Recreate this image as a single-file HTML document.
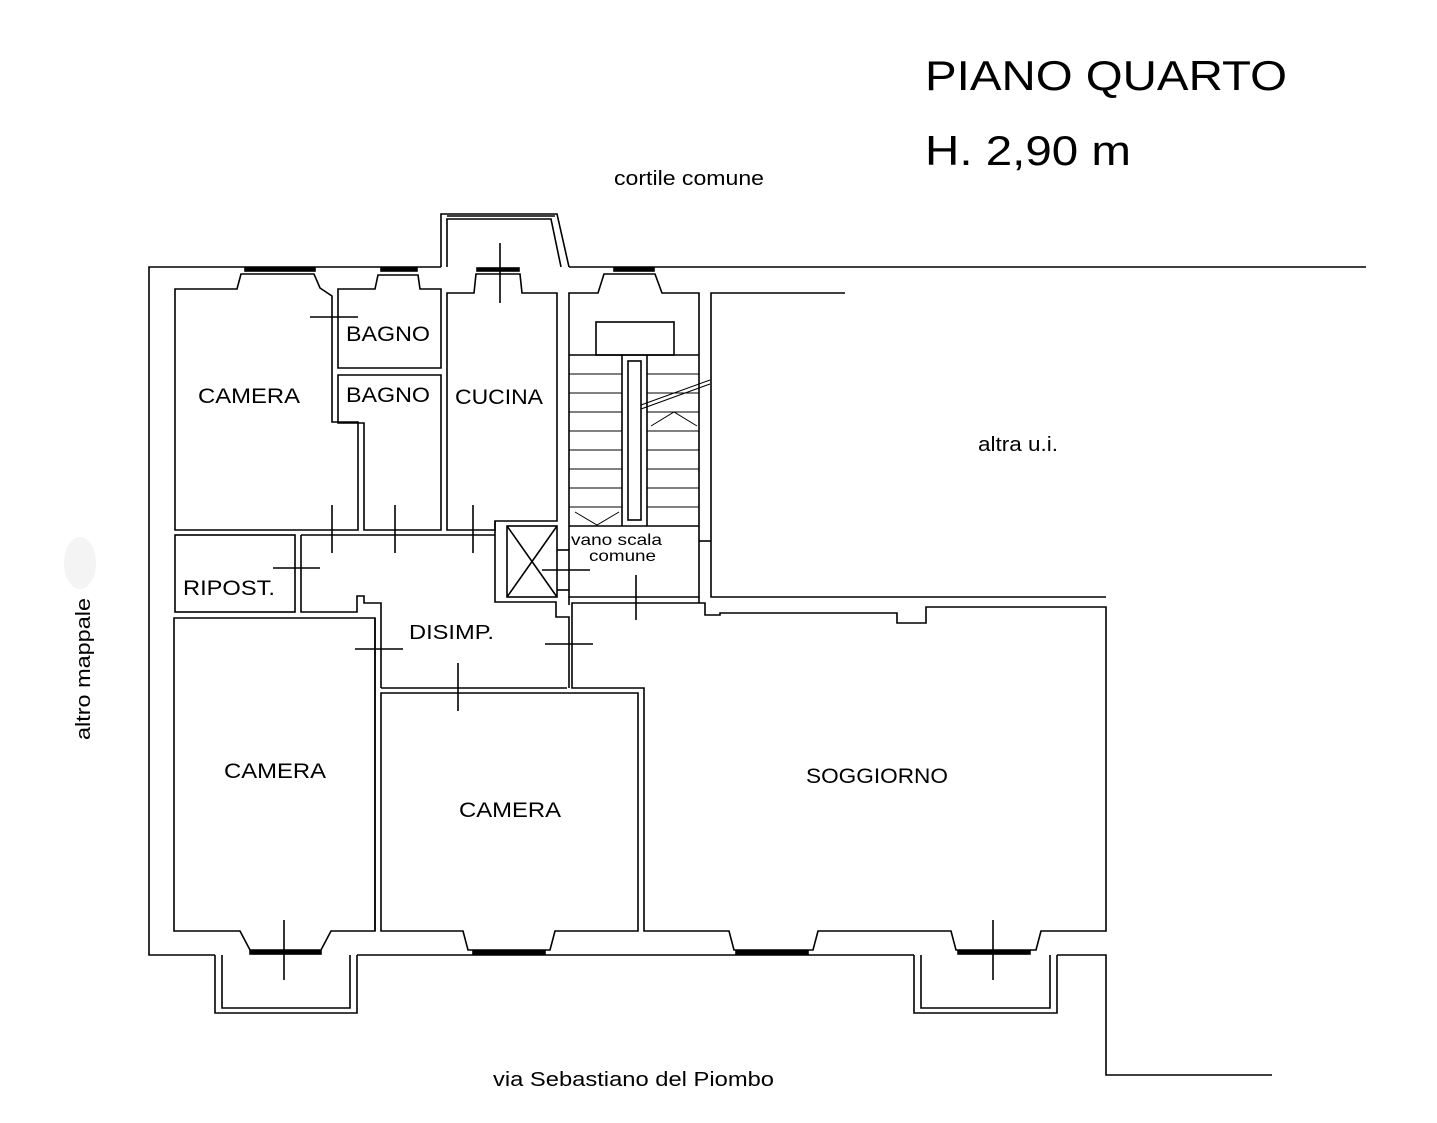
<!DOCTYPE html>
<html><head><meta charset="utf-8"><style>
html,body{margin:0;padding:0;background:#fff;}
svg{display:block;}
text{font-family:"Liberation Sans",Arial,sans-serif;fill:#000;}
</style></head><body>
<svg width="1437" height="1123" viewBox="0 0 1437 1123" xmlns="http://www.w3.org/2000/svg">
<g fill="none" stroke="#000" stroke-width="1.6">
<polyline points="441,267 149,267 149,955 215,955"/>
<polyline points="569,267 1366,267"/>
<polyline points="357,955 914,955"/>
<polyline points="1057,955 1106,955 1106,1075 1272,1075"/>
<polyline points="441,267 441,214 557,214 569,267"/>
<polyline points="447,267 447,219 551,219 561,267"/>
<line x1="447" y1="216" x2="555" y2="216"/>
<rect x="245" y="268" width="70" height="3" fill="#000"/>
<rect x="381" y="268" width="36" height="3" fill="#000"/>
<rect x="477" y="268" width="42" height="3" fill="#000"/>
<rect x="614" y="268" width="40" height="3" fill="#000"/>
<polygon points="175,289 237,289 241,274 314,274 320,288 332,296 332,422 358,422 358,530 175,530"/>
<polygon points="338,289 375,289 378,275 418,275 420,289 441,289 441,368 338,368"/>
<polygon points="338,375 441,375 441,530 364,530 364,423 338,423"/>
<polygon points="447,293 474,293 476,274 520,274 522,293 557,293 557,521 495,521 495,530 447,530"/>
<polygon points="569,293 598,293 604,274 655,274 662,293 699,293 699,597 569,597"/>
<rect x="596" y="322" width="78" height="33"/>
<rect x="628" y="361" width="13" height="159"/>
<line x1="622" y1="355" x2="622" y2="526"/>
<line x1="647" y1="355" x2="647" y2="526"/>
<line x1="569" y1="526" x2="699" y2="526"/>
<line x1="569" y1="355" x2="699" y2="355"/>
<g stroke-width="1">
<line x1="569" y1="374" x2="622" y2="374"/><line x1="569" y1="393" x2="622" y2="393"/><line x1="569" y1="412" x2="622" y2="412"/><line x1="569" y1="431" x2="622" y2="431"/><line x1="569" y1="450" x2="622" y2="450"/><line x1="569" y1="469" x2="622" y2="469"/><line x1="569" y1="488" x2="622" y2="488"/><line x1="569" y1="507" x2="622" y2="507"/>
<line x1="647" y1="374" x2="699" y2="374"/><line x1="647" y1="393" x2="699" y2="393"/><line x1="647" y1="412" x2="699" y2="412"/><line x1="647" y1="431" x2="699" y2="431"/><line x1="647" y1="450" x2="699" y2="450"/><line x1="647" y1="469" x2="699" y2="469"/><line x1="647" y1="488" x2="699" y2="488"/><line x1="647" y1="507" x2="699" y2="507"/>
<line x1="641" y1="405" x2="710" y2="380"/><line x1="641" y1="409" x2="710" y2="384"/>
<polyline points="651,426 674,412 697,426"/>
<polyline points="575,512 597,525 619,512"/>
</g>
<polyline points="845,293 711,293 711,597 1106,597"/>
<line x1="699" y1="541" x2="711" y2="541"/>
<polyline points="495,521 495,602 556,602 556,617 569,617 569,688"/>
<rect x="507" y="526" width="50" height="71"/>
<line x1="507" y1="526" x2="557" y2="597"/><line x1="557" y1="526" x2="507" y2="597"/>
<line x1="557" y1="550" x2="569" y2="550"/><line x1="557" y1="590" x2="569" y2="590"/>
<line x1="569" y1="597" x2="569" y2="605"/>
<polyline points="572,620 572,603 705,603 705,615 720,615 720,613 897,613 897,623 926,623 926,607 1106,607 1106,931 1041,931 1036,950 956,950 951,931 818,931 813,950 734,950 729,931 644,931 644,688 572,688 572,620"/>
<line x1="699" y1="603" x2="699" y2="597"/>
<polygon points="381,693 638,693 638,931 555,931 550,950 468,950 463,931 381,931"/>
<polyline points="381,688 567,688"/>
<polyline points="301,535 495,535"/>
<polyline points="301,535 301,612 357,612 357,596 364,596 364,603 381,603 381,688"/>
<line x1="375" y1="618" x2="375" y2="931"/>
<rect x="175" y="535" width="120" height="77"/>
<polygon points="174,618 375,618 375,931 331,931 321,950 250,950 240,931 174,931"/>
<rect x="250" y="951" width="71" height="3" fill="#000"/>
<rect x="473" y="951" width="72" height="3" fill="#000"/>
<rect x="736" y="951" width="72" height="3" fill="#000"/>
<rect x="958" y="951" width="72" height="3" fill="#000"/>
<polyline points="215,955 215,1013 357,1013 357,955"/>
<polyline points="222,955 222,1008 350,1008 350,955"/>
<polyline points="914,955 914,1013 1057,1013 1057,955"/>
<polyline points="921,955 921,1008 1050,1008 1050,955"/>
<line x1="310" y1="317" x2="358" y2="317"/>
<line x1="500" y1="243" x2="500" y2="303"/>
<line x1="332" y1="505" x2="332" y2="553"/>
<line x1="395" y1="505" x2="395" y2="553"/>
<line x1="473" y1="505" x2="473" y2="553"/>
<line x1="273" y1="568" x2="320" y2="568"/>
<line x1="542" y1="570" x2="590" y2="570"/>
<line x1="636" y1="575" x2="636" y2="620"/>
<line x1="355" y1="649" x2="403" y2="649"/>
<line x1="545" y1="644" x2="593" y2="644"/>
<line x1="458" y1="663" x2="458" y2="711"/>
<line x1="284" y1="920" x2="284" y2="980"/>
<line x1="993" y1="920" x2="993" y2="980"/>
</g>
<ellipse cx="80" cy="563" rx="16" ry="26" fill="#f4f4f4"/>
<g lengthAdjust="spacingAndGlyphs">
<text x="925" y="90" font-size="42" textLength="362" lengthAdjust="spacingAndGlyphs">PIANO QUARTO</text>
<text x="925" y="165" font-size="42" textLength="206" lengthAdjust="spacingAndGlyphs">H. 2,90 m</text>
<text x="614" y="185" font-size="20" textLength="150" lengthAdjust="spacingAndGlyphs">cortile comune</text>
<text x="346" y="341" font-size="21" textLength="84" lengthAdjust="spacingAndGlyphs">BAGNO</text>
<text x="346" y="402" font-size="21" textLength="84" lengthAdjust="spacingAndGlyphs">BAGNO</text>
<text x="198" y="403" font-size="21" textLength="102" lengthAdjust="spacingAndGlyphs">CAMERA</text>
<text x="455" y="404" font-size="21" textLength="88" lengthAdjust="spacingAndGlyphs">CUCINA</text>
<text x="978" y="451" font-size="20" textLength="80" lengthAdjust="spacingAndGlyphs">altra u.i.</text>
<text x="571" y="545" font-size="16" textLength="91" lengthAdjust="spacingAndGlyphs">vano scala</text>
<text x="589" y="561" font-size="16" textLength="67" lengthAdjust="spacingAndGlyphs">comune</text>
<text x="183" y="595" font-size="21" textLength="92" lengthAdjust="spacingAndGlyphs">RIPOST.</text>
<text x="409" y="639" font-size="20" textLength="85" lengthAdjust="spacingAndGlyphs">DISIMP.</text>
<text x="224" y="778" font-size="21" textLength="102" lengthAdjust="spacingAndGlyphs">CAMERA</text>
<text x="459" y="817" font-size="21" textLength="102" lengthAdjust="spacingAndGlyphs">CAMERA</text>
<text x="806" y="783" font-size="21" textLength="142" lengthAdjust="spacingAndGlyphs">SOGGIORNO</text>
<text x="493" y="1086" font-size="20" textLength="281" lengthAdjust="spacingAndGlyphs">via Sebastiano del Piombo</text>
<text transform="translate(90,740) rotate(-90)" font-size="20" textLength="142" lengthAdjust="spacingAndGlyphs">altro mappale</text>
</g>
</svg>
</body></html>
